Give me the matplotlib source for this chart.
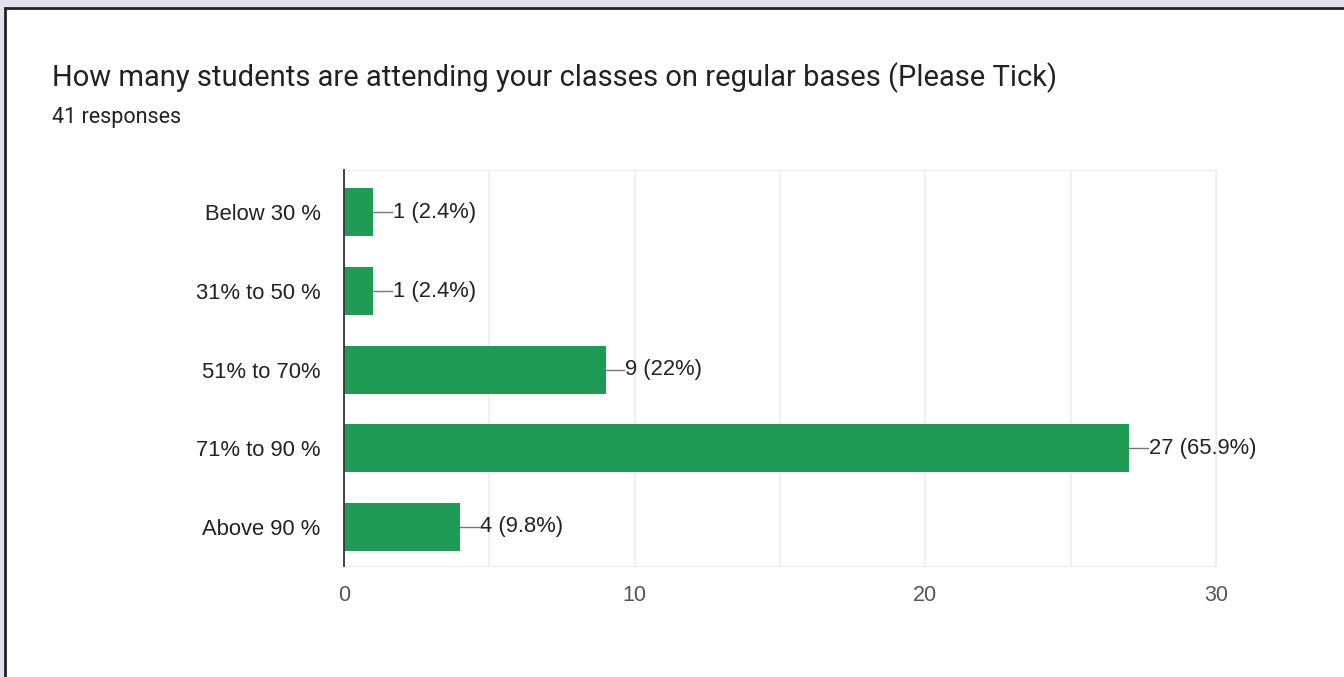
import matplotlib.pyplot as plt
from matplotlib.patches import Rectangle

# Data
categories = ["Below 30 %", "31% to 50 %", "51% to 70%", "71% to 90 %", "Above 90 %"]
counts = [1, 1, 9, 27, 4]
percents = ["2.4%", "2.4%", "22%", "65.9%", "9.8%"]
xticks = [0, 10, 20, 30]

W, H = 1344, 677
fig = plt.figure(figsize=(W / 100, H / 100), dpi=100)
fig.patch.set_facecolor("#e4dfec")

# white card with dark border (top and left edges visible)
card = Rectangle((5 / W, -0.05), 1.1, 1 - 8 / H + 0.05, transform=fig.transFigure,
                 facecolor="white", edgecolor="#222222", linewidth=2, zorder=-10)
fig.patches.append(card)

fig.text(52 / W, 1 - 78 / H, "How many students are attending your classes on regular bases (Please Tick)",
         fontsize=21, family="Roboto", color="#212121", va="center")
fig.text(52 / W, 1 - 118 / H, "41 responses", fontsize=15.5, family="Roboto", color="#212121", va="center")

ax = fig.add_axes([344 / W, 1 - 566 / H, (1216 - 344) / W, (566 - 170) / H])
ax.set_facecolor("white")
y = list(range(len(categories)))
ax.barh(y, counts, height=0.61, color="#1f9b55", zorder=3)

for yi, c, p in zip(y, counts, percents):
    ax.plot([c, c + 0.65], [yi, yi], color="#777777", linewidth=1, zorder=3)
    ax.text(c + 0.68, yi, f"{c} ({p})", va="center", ha="left", fontsize=15.8,
            family="Liberation Sans", color="#222222")

ax.set_xlim(0, 30)
ax.set_ylim(4.5, -0.54)
ax.set_yticks(y)
ax.set_yticklabels(categories, fontsize=15.8, family="Liberation Sans", color="#222222")
ax.set_xticks(xticks)
ax.set_xticklabels([str(t) for t in xticks], fontsize=15.5, family="Liberation Sans", color="#555555")
ax.set_xticks([5, 15, 25], minor=True)
ax.grid(axis="x", which="both", color="#ededed", linewidth=1.2, zorder=0)
ax.tick_params(axis="both", which="both", length=0)
ax.tick_params(axis="y", pad=17)
ax.tick_params(axis="x", pad=14)

for side in ["top", "right", "bottom"]:
    ax.spines[side].set_color("#ededed")
ax.spines["left"].set_color("#333333")
ax.spines["left"].set_linewidth(1.3)
ax.spines["left"].set_zorder(4)

fig.savefig("out.png", dpi=100, facecolor=fig.get_facecolor())
